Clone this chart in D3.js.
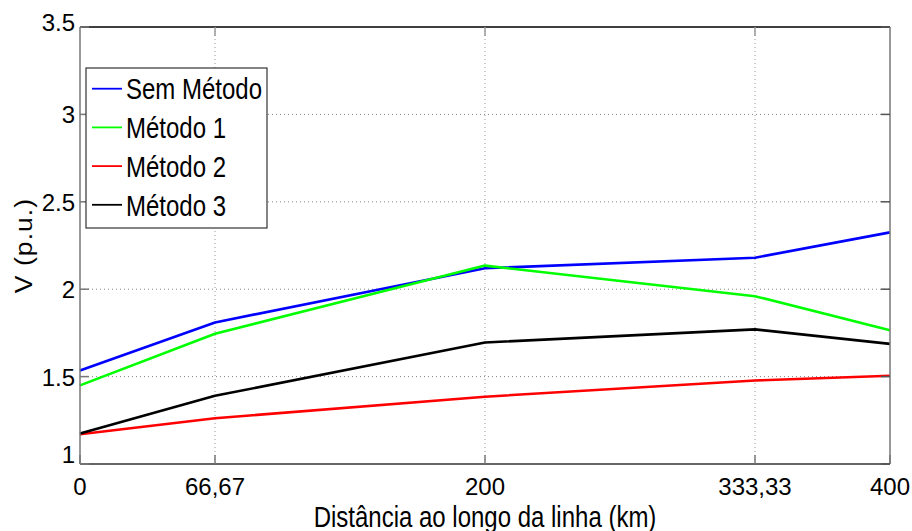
<!DOCTYPE html>
<html>
<head>
<meta charset="utf-8">
<script src="https://cdn.jsdelivr.net/npm/d3@7"></script>
<style>
  body { margin: 0; background: #fff; }
  text { font-family: "Liberation Sans", Arial, sans-serif; fill: #000; }
</style>
</head>
<body>
<div id="mount"></div>
<script>
'use strict';

// distances along the line (km) and voltage per method (p.u.)
const distances = [0, 66.67, 200, 333.33, 400];
const xTickLabels = ['0', '66,67', '200', '333,33', '400'];
const yTicks = [1, 1.5, 2, 2.5, 3, 3.5];
const yTickLabels = ['1', '1.5', '2', '2.5', '3', '3.5'];

const semMetodo = [1.535, 1.81, 2.12, 2.18, 2.325];
const metodo1 = [1.45, 1.745, 2.135, 1.96, 1.765];
const metodo2 = [1.17, 1.262, 1.385, 1.478, 1.505];
const metodo3 = [1.175, 1.39, 1.695, 1.77, 1.687];

const seriesNames = ['Sem Método', 'Método 1', 'Método 2', 'Método 3'];
const seriesColors = ['#0000ff', '#00ff00', '#ff0000', '#000000'];
const seriesValues = [semMetodo, metodo1, metodo2, metodo3];

const W = 912, H = 531;
const margin = { top: 27, left: 80, right: 22, bottom: 67 };
const width = W - margin.left - margin.right,
      height = H - margin.top - margin.bottom;

const svg = d3.select('#mount').append('svg')
    .attr('width', W)
    .attr('height', H);

const x = d3.scaleLinear().domain([0, 400]).range([0, width]);
const y = d3.scaleLinear().domain([1, 3.5]).range([height, 0]);

const g = svg.append('g')
    .attr('transform', `translate(${margin.left},${margin.top})`);

// dotted grid
g.selectAll('.gx').data(distances.slice(1, -1)).enter().append('line')
    .attr('x1', d => x(d)).attr('x2', d => x(d))
    .attr('y1', 0).attr('y2', height)
    .style('stroke', '#999').style('stroke-width', 1)
    .style('stroke-dasharray', '1,3');
g.selectAll('.gy').data(yTicks.slice(1, -1)).enter().append('line')
    .attr('x1', 0).attr('x2', width)
    .attr('y1', d => y(d)).attr('y2', d => y(d))
    .style('stroke', '#888').style('stroke-width', 1)
    .style('stroke-dasharray', '1,3');

// series lines
const line = d3.line()
    .x((d, i) => x(distances[i]))
    .y(d => y(d));

seriesValues.forEach((vals, k) => {
  g.append('path')
      .datum(vals)
      .attr('d', line)
      .style('fill', 'none')
      .style('stroke', seriesColors[k])
      .style('stroke-width', 2.6)
      .style('stroke-linejoin', 'round');
});

// axes box
const tickLen = 9;
g.append('line').attr('x1', 0).attr('x2', width).attr('y1', 0).attr('y2', 0)
    .style('stroke', '#000').style('stroke-width', 1.5);
g.append('line').attr('x1', 0).attr('x2', width).attr('y1', height).attr('y2', height)
    .style('stroke', '#333').style('stroke-width', 1.5);
g.append('line').attr('x1', 0).attr('x2', 0).attr('y1', 0).attr('y2', height)
    .style('stroke', '#777').style('stroke-width', 1.5);
g.append('line').attr('x1', width).attr('x2', width).attr('y1', 0).attr('y2', height)
    .style('stroke', '#777').style('stroke-width', 1.5);

// inner ticks
distances.forEach(d => {
  g.append('line').attr('x1', x(d)).attr('x2', x(d)).attr('y1', height).attr('y2', height - tickLen)
      .style('stroke', '#777').style('stroke-width', 1.5);
  g.append('line').attr('x1', x(d)).attr('x2', x(d)).attr('y1', 0).attr('y2', tickLen)
      .style('stroke', '#999').style('stroke-width', 1.5);
});
yTicks.forEach(d => {
  g.append('line').attr('x1', 0).attr('x2', tickLen).attr('y1', y(d)).attr('y2', y(d))
      .style('stroke', '#777').style('stroke-width', 1.5);
  g.append('line').attr('x1', width).attr('x2', width - tickLen).attr('y1', y(d)).attr('y2', y(d))
      .style('stroke', '#555').style('stroke-width', 1.5);
});

// tick labels
g.selectAll('.xl').data(distances).enter().append('text')
    .attr('x', d => x(d))
    .attr('y', height + 31)
    .attr('text-anchor', 'middle')
    .style('font-size', '24px')
    .text((d, i) => xTickLabels[i]);

g.selectAll('.yl').data(yTicks).enter().append('text')
    .attr('x', -5)
    .attr('y', d => y(d))
    .attr('dy', (d, i) => i === 0 ? -1 : (i === yTicks.length - 1 ? 4 : 9))
    .attr('text-anchor', 'end')
    .style('font-size', '24px')
    .text((d, i) => yTickLabels[i]);

// axis titles
svg.append('text')
    .attr('transform', `translate(${margin.left + width / 2},527) scale(1,1.25)`)
    .attr('text-anchor', 'middle')
    .style('font-size', '24px')
    .text('Distância ao longo da linha (km)');

svg.append('text')
    .attr('transform', `translate(32,${margin.top + height / 2}) rotate(-90) scale(1.1,1)`)
    .attr('text-anchor', 'middle')
    .style('font-size', '24px')
    .style('letter-spacing', '1px')
    .text('V (p.u.)');

// legend
const legend = svg.append('g').attr('transform', 'translate(86,68)');
legend.append('rect')
    .attr('width', 181).attr('height', 160)
    .style('fill', '#fff').style('stroke', '#333').style('stroke-width', 1.2);

seriesNames.forEach((name, k) => {
  const ly = 20.7 + k * 38.7;
  legend.append('line')
      .attr('x1', 6).attr('x2', 36).attr('y1', ly).attr('y2', ly)
      .style('stroke', seriesColors[k]).style('stroke-width', 1.8);
  legend.append('text')
      .attr('transform', `translate(40,${ly + 10.7}) scale(1,1.25)`)
      .style('font-size', '24px')
      .text(name);
});
</script>
</body>
</html>
